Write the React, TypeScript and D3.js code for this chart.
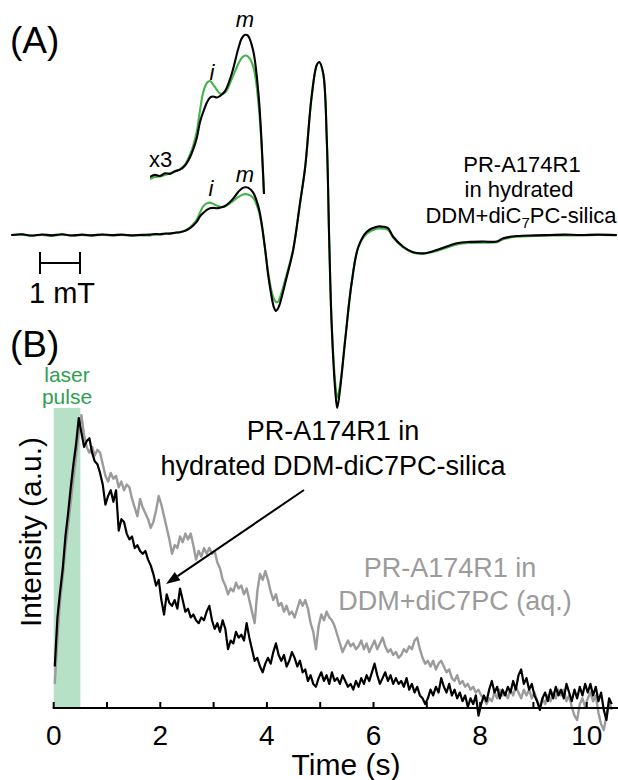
import React from 'react';
import * as d3 from 'd3';

// ---------- Panel A: EPR spectra (field in mT, normalized amplitude) ----------
const epField = [
  0.0, 0.25, 0.5, 0.75, 1.0, 1.25, 1.5, 1.75, 2.0, 2.25, 2.5, 2.75, 3.0, 3.25, 3.45, 3.575, 3.7, 3.825, 3.95, 4.075,
  4.2, 4.325, 4.45, 4.53, 4.62, 4.7, 4.78, 4.87, 4.95, 5.03, 5.12, 5.2, 5.33, 5.49, 5.66, 5.75, 5.83, 5.9, 6.03, 6.16,
  6.24, 6.33, 6.41, 6.49, 6.55, 6.6, 6.65, 6.7, 6.87, 7.03, 7.2, 7.33, 7.49, 7.62, 7.68, 7.78, 7.87, 7.93, 7.99, 8.08,
  8.13, 8.2, 8.33, 8.49, 8.66, 8.87, 9.12, 9.28, 9.4, 9.53, 9.78, 10.03, 10.28, 10.62, 11.12, 11.45, 11.78, 12.12, 12.28, 12.62,
  13.08, 13.45, 13.82, 14.2, 14.65, 15.1,
];
const epSilica = [
  0.0, 0.004, -0.003, 0.003, -0.002, 0.004, -0.003, 0.002, -0.002, 0.003, -0.001, 0.002, -0.002, 0.001, 0.002, 0.006, 0.004, 0.009, 0.008, 0.013,
  0.016, 0.024, 0.04, 0.055, 0.077, 0.108, 0.127, 0.145, 0.155, 0.157, 0.155, 0.158, 0.168, 0.2, 0.25, 0.27, 0.276, 0.274, 0.245, 0.164,
  0.069, -0.087, -0.241, -0.357, -0.42, -0.439, -0.425, -0.395, -0.241, -0.087, 0.183, 0.394, 0.799, 0.983, 1.0, 0.934, 0.549, -0.029, -0.51, -0.896,
  -1.0, -0.896, -0.607, -0.279, -0.068, 0.019, 0.048, 0.048, 0.04, -0.01, -0.068, -0.1, -0.106, -0.087, -0.048, -0.04, -0.038, -0.038, -0.019, -0.006,
  -0.002, 0.0, 0.002, 0.0, 0.002, 0.0,
];
const epSolution = [
  0.0, 0.002, -0.004, 0.001, -0.005, 0.002, -0.002, 0.0, -0.004, 0.001, -0.003, 0.0, -0.004, -0.002, -0.002, 0.002, 0.003, 0.006, 0.009, 0.013,
  0.017, 0.026, 0.045, 0.062, 0.09, 0.13, 0.165, 0.183, 0.187, 0.18, 0.17, 0.163, 0.165, 0.19, 0.22, 0.232, 0.236, 0.234, 0.215, 0.145,
  0.06, -0.085, -0.225, -0.325, -0.37, -0.387, -0.385, -0.36, -0.225, -0.08, 0.183, 0.394, 0.799, 0.983, 1.0, 0.934, 0.549, -0.029, -0.5, -0.85,
  -0.94, -0.87, -0.6, -0.279, -0.068, 0.008, 0.036, 0.037, 0.03, -0.015, -0.072, -0.102, -0.108, -0.092, -0.055, -0.046, -0.044, -0.042, -0.024, -0.01,
  -0.006, -0.004, -0.002, -0.003, 0.0, -0.002,
];
const insetFieldRange = [3.45, 6.35];

// ---------- Panel B: decay kinetics (uniform sampling) ----------
const kinStart = 0.02; // s
const kinStep = 0.05; // s
const kinSilica = [
  0.14, 0.31, 0.40, 0.48, 0.59, 0.67, 0.76, 0.84, 0.91, 1.0,
  0.95, 0.90, 0.92, 0.93, 0.88, 0.85, 0.84, 0.81, 0.77, 0.70,
  0.73, 0.75, 0.71, 0.75, 0.61, 0.65, 0.64, 0.60, 0.58, 0.59,
  0.55, 0.56, 0.54, 0.53, 0.54, 0.51, 0.49, 0.46, 0.42, 0.44,
  0.37, 0.32, 0.39, 0.36, 0.35, 0.37, 0.34, 0.41, 0.37, 0.33,
  0.34, 0.31, 0.32, 0.30, 0.29, 0.31, 0.30, 0.33, 0.35, 0.30,
  0.27, 0.29, 0.26, 0.30, 0.27, 0.20, 0.23, 0.22, 0.26, 0.24,
  0.25, 0.23, 0.29, 0.24, 0.20, 0.16, 0.17, 0.14, 0.12, 0.15,
  0.17, 0.15, 0.19, 0.22, 0.18, 0.16, 0.18, 0.14, 0.16, 0.19,
  0.17, 0.14, 0.16, 0.12, 0.13, 0.09, 0.11, 0.08, 0.07, 0.10,
  0.12, 0.09, 0.11, 0.08, 0.12, 0.09, 0.10, 0.08, 0.11, 0.09,
  0.07, 0.08, 0.06, 0.09, 0.07, 0.10, 0.08, 0.11, 0.09, 0.12,
  0.15, 0.11, 0.08, 0.10, 0.12, 0.09, 0.11, 0.08, 0.10, 0.08,
  0.09, 0.07, 0.10, 0.06, 0.08, 0.05, 0.07, 0.04, 0.03, 0.01,
  0.03, 0.06, 0.04, 0.07, 0.05, 0.10, 0.07, 0.05, 0.08, 0.04,
  0.06, 0.03, 0.05, 0.02, 0.04, 0.00, 0.03, 0.01, 0.04, -0.03,
  0.01, 0.04, 0.02, 0.06, 0.09, 0.05, 0.07, 0.03, 0.06, 0.04,
  0.07, 0.05, 0.09, 0.06, 0.11, 0.13, 0.08, 0.10, 0.06, 0.08,
  0.04, 0.02, -0.01, 0.03, 0.05, 0.02, 0.06, 0.03, 0.07, 0.04,
  0.06, 0.03, 0.08, 0.05, 0.02, 0.06, 0.03, 0.07, 0.04, 0.08,
  0.05, 0.08, 0.04, 0.07, 0.02, 0.05, -0.01, -0.045, 0.03, 0.01,
];
const kinAqueous = [
  0.08, 0.24, 0.37, 0.45, 0.55, 0.63, 0.71, 0.79, 0.87, 0.95,
  1.01, 0.94, 0.90, 0.88, 0.90, 0.87, 0.89, 0.88, 0.84, 0.80,
  0.78, 0.81, 0.79, 0.80, 0.76, 0.78, 0.75, 0.77, 0.76, 0.72,
  0.69, 0.66, 0.72, 0.69, 0.67, 0.65, 0.62, 0.64, 0.68, 0.73,
  0.70, 0.66, 0.62, 0.58, 0.53, 0.56, 0.55, 0.59, 0.57, 0.60,
  0.58, 0.60, 0.56, 0.51, 0.54, 0.52, 0.55, 0.53, 0.55, 0.53,
  0.54, 0.50, 0.48, 0.44, 0.42, 0.39, 0.41, 0.40, 0.43, 0.41,
  0.42, 0.39, 0.41, 0.37, 0.33, 0.29, 0.40, 0.46, 0.44, 0.47,
  0.44, 0.40, 0.37, 0.39, 0.35, 0.36, 0.33, 0.35, 0.32, 0.33,
  0.31, 0.34, 0.37, 0.35, 0.37, 0.34, 0.29, 0.26, 0.20, 0.28,
  0.32, 0.30, 0.33, 0.31, 0.30, 0.28, 0.25, 0.22, 0.19, 0.21,
  0.23, 0.21, 0.22, 0.20, 0.21, 0.23, 0.20, 0.22, 0.19, 0.21,
  0.23, 0.20, 0.22, 0.24, 0.21, 0.19, 0.20, 0.18, 0.19, 0.17,
  0.18, 0.20, 0.19, 0.21, 0.20, 0.23, 0.24, 0.20, 0.17, 0.15,
  0.16, 0.14, 0.16, 0.13, 0.15, 0.16, 0.14, 0.12, 0.13, 0.10,
  0.09, 0.11, 0.08, 0.09, 0.07, 0.08, 0.06, 0.07, 0.05, 0.06,
  0.04, 0.03, 0.01, 0.03, 0.02, 0.05, 0.03, 0.06, 0.04, 0.05,
  0.03, 0.06, 0.04, 0.07, 0.05, 0.03, 0.06, 0.04, 0.06, 0.03,
  0.05, 0.02, 0.00, 0.03, 0.01, 0.04, 0.02, 0.05, 0.03, 0.06,
  0.04, 0.06, 0.02, 0.04, 0.00, -0.03, -0.045, 0.01, 0.03, 0.00,
  0.03, 0.05, 0.02, 0.04, -0.02, -0.06, -0.08, -0.03, 0.02, -0.01,
];
const timeTicks = [0, 1, 2, 3, 4, 5, 6, 7, 8, 9, 10];
const timeTickLabels = [0, 2, 4, 6, 8, 10];
const laserPulse = [0, 0.5];

const FONT = "'Liberation Sans', Arial, Helvetica, sans-serif";
const GREEN_LINE = '#45b449';
const GREEN_TEXT = '#2f9e52';
const GREEN_FILL = '#b6e1c6';
const GRAY = '#9b9b9b';

export default function App() {
  // Panel A scales
  const xA = d3.scaleLinear().domain([0, 15.1]).range([12, 616]);
  const yA = d3.scaleLinear().domain([-1, 1]).range([408, 62]);
  const yInset = d3.scaleLinear().domain([0, 1]).range([178, 178 - 3 * 173]);

  const specLine = (vals: number[]) =>
    d3.line<number>()
      .x((_, i) => xA(epField[i]))
      .y((d) => yA(d))
      .curve(d3.curveCatmullRom.alpha(0.5))(vals) || '';

  const insetIdx = epField.map((f, i) => i).filter((i) => epField[i] >= insetFieldRange[0] && epField[i] <= insetFieldRange[1]);
  const insetLine = (vals: number[]) =>
    d3.line<number>()
      .x((i) => xA(epField[i]))
      .y((i) => yInset(vals[i]))
      .curve(d3.curveCatmullRom.alpha(0.5))(insetIdx) || '';

  // Panel B scales
  const xB = d3.scaleLinear().domain([0, 10.6]).range([53.7, 618.7]);
  const yB = d3.scaleLinear().domain([0, 1]).range([707, 418]);
  const kinLine = (vals: number[]) =>
    d3.line<number>()
      .x((_, i) => xB(kinStart + i * kinStep))
      .y((d) => yB(d))(vals) || '';

  const axisY = 708;

  // arrow
  const ax1 = 304, ay1 = 490, ax2 = 166, ay2 = 584;
  const ang = Math.atan2(ay2 - ay1, ax2 - ax1);
  const hl = 14, hw = 5;
  const bx = ax2 - hl * Math.cos(ang), by = ay2 - hl * Math.sin(ang);
  const head = `M${ax2},${ay2} L${bx + hw * Math.sin(ang)},${by - hw * Math.cos(ang)} L${bx - hw * Math.sin(ang)},${by + hw * Math.cos(ang)} Z`;

  return (
    <svg width={618} height={780} style={{ position: 'absolute', left: 0, top: 0, background: '#fff' }} fontFamily={FONT}>
      <defs>
        <clipPath id="insetClip">
          <rect x={xA(insetFieldRange[0])} y={0} width={266 - xA(insetFieldRange[0])} height={194} />
        </clipPath>
      </defs>

      {/* ---------- Panel A ---------- */}
      <text x={10} y={53} fontSize={37}>(A)</text>

      <g fill="none" strokeLinejoin="round" strokeLinecap="round">
        <path d={specLine(epSolution)} stroke={GREEN_LINE} strokeWidth={2.1} />
        <path d={specLine(epSilica)} stroke="#000" strokeWidth={2.1} />
        <g clipPath="url(#insetClip)">
          <path d={insetLine(epSolution)} stroke={GREEN_LINE} strokeWidth={2.1} />
          <path d={insetLine(epSilica)} stroke="#000" strokeWidth={2.1} />
        </g>
      </g>

      <text x={149} y={167} fontSize={22}>x3</text>
      <text x={212} y={80} fontSize={22} fontStyle="italic" textAnchor="middle">i</text>
      <text x={245} y={27} fontSize={22} fontStyle="italic" textAnchor="middle">m</text>
      <text x={211} y={196} fontSize={22} fontStyle="italic" textAnchor="middle">i</text>
      <text x={245} y={182} fontSize={22} fontStyle="italic" textAnchor="middle">m</text>

      <g fontSize={22} textAnchor="middle">
        <text x={522} y={172}>PR-A174R1</text>
        <text x={519} y={197}>in hydrated</text>
        <text x={521} y={223}>
          DDM+diC<tspan fontSize={15} dy={5}>7</tspan><tspan dy={-5}>PC-silica</tspan>
        </text>
      </g>

      {/* scale bar: 1 mT */}
      <g stroke="#000" strokeWidth={2}>
        <line x1={xA(0.7)} x2={xA(1.7)} y1={263} y2={263} />
        <line x1={xA(0.7)} x2={xA(0.7)} y1={252} y2={274} />
        <line x1={xA(1.7)} x2={xA(1.7)} y1={252} y2={274} />
      </g>
      <text x={62} y={303} fontSize={29} textAnchor="middle">1 mT</text>

      {/* ---------- Panel B ---------- */}
      <text x={10} y={357} fontSize={37}>(B)</text>

      <rect x={xB(laserPulse[0])} y={yB(1.035)} width={xB(laserPulse[1]) - xB(laserPulse[0])} height={axisY - yB(1.035)} fill={GREEN_FILL} />
      <g fill={GREEN_TEXT} fontSize={21} textAnchor="middle">
        <text x={67} y={382}>laser</text>
        <text x={67} y={404}>pulse</text>
      </g>

      <g fill="none" strokeLinejoin="round">
        <path d={kinLine(kinAqueous)} stroke={GRAY} strokeWidth={2.4} />
        <path d={kinLine(kinSilica)} stroke="#000" strokeWidth={2.2} />
      </g>

      {/* x axis */}
      <line x1={xB(0) - 1} x2={618} y1={axisY} y2={axisY} stroke="#000" strokeWidth={2.2} />
      {timeTicks.map((t) => (
        <line key={t} x1={xB(t)} x2={xB(t)} y1={axisY} y2={axisY - 6} stroke="#000" strokeWidth={2} />
      ))}
      {timeTickLabels.map((t) => (
        <text key={t} x={xB(t)} y={745} fontSize={28} textAnchor="middle">{t}</text>
      ))}
      <text x={346} y={775} fontSize={30} textAnchor="middle">Time (s)</text>
      <text transform="translate(41,532) rotate(-90)" fontSize={30} textAnchor="middle">Intensity (a.u.)</text>

      {/* annotations */}
      <g fontSize={27} textAnchor="middle">
        <text x={333} y={440}>PR-A174R1 in</text>
        <text x={333} y={475}>hydrated DDM-diC7PC-silica</text>
      </g>
      <line x1={ax1} y1={ay1} x2={bx} y2={by} stroke="#000" strokeWidth={2} />
      <path d={head} fill="#000" />

      <g fontSize={27} textAnchor="middle" fill={GRAY}>
        <text x={450} y={577}>PR-A174R1 in</text>
        <text x={455} y={610}>DDM+diC7PC (aq.)</text>
      </g>
    </svg>
  );
}
